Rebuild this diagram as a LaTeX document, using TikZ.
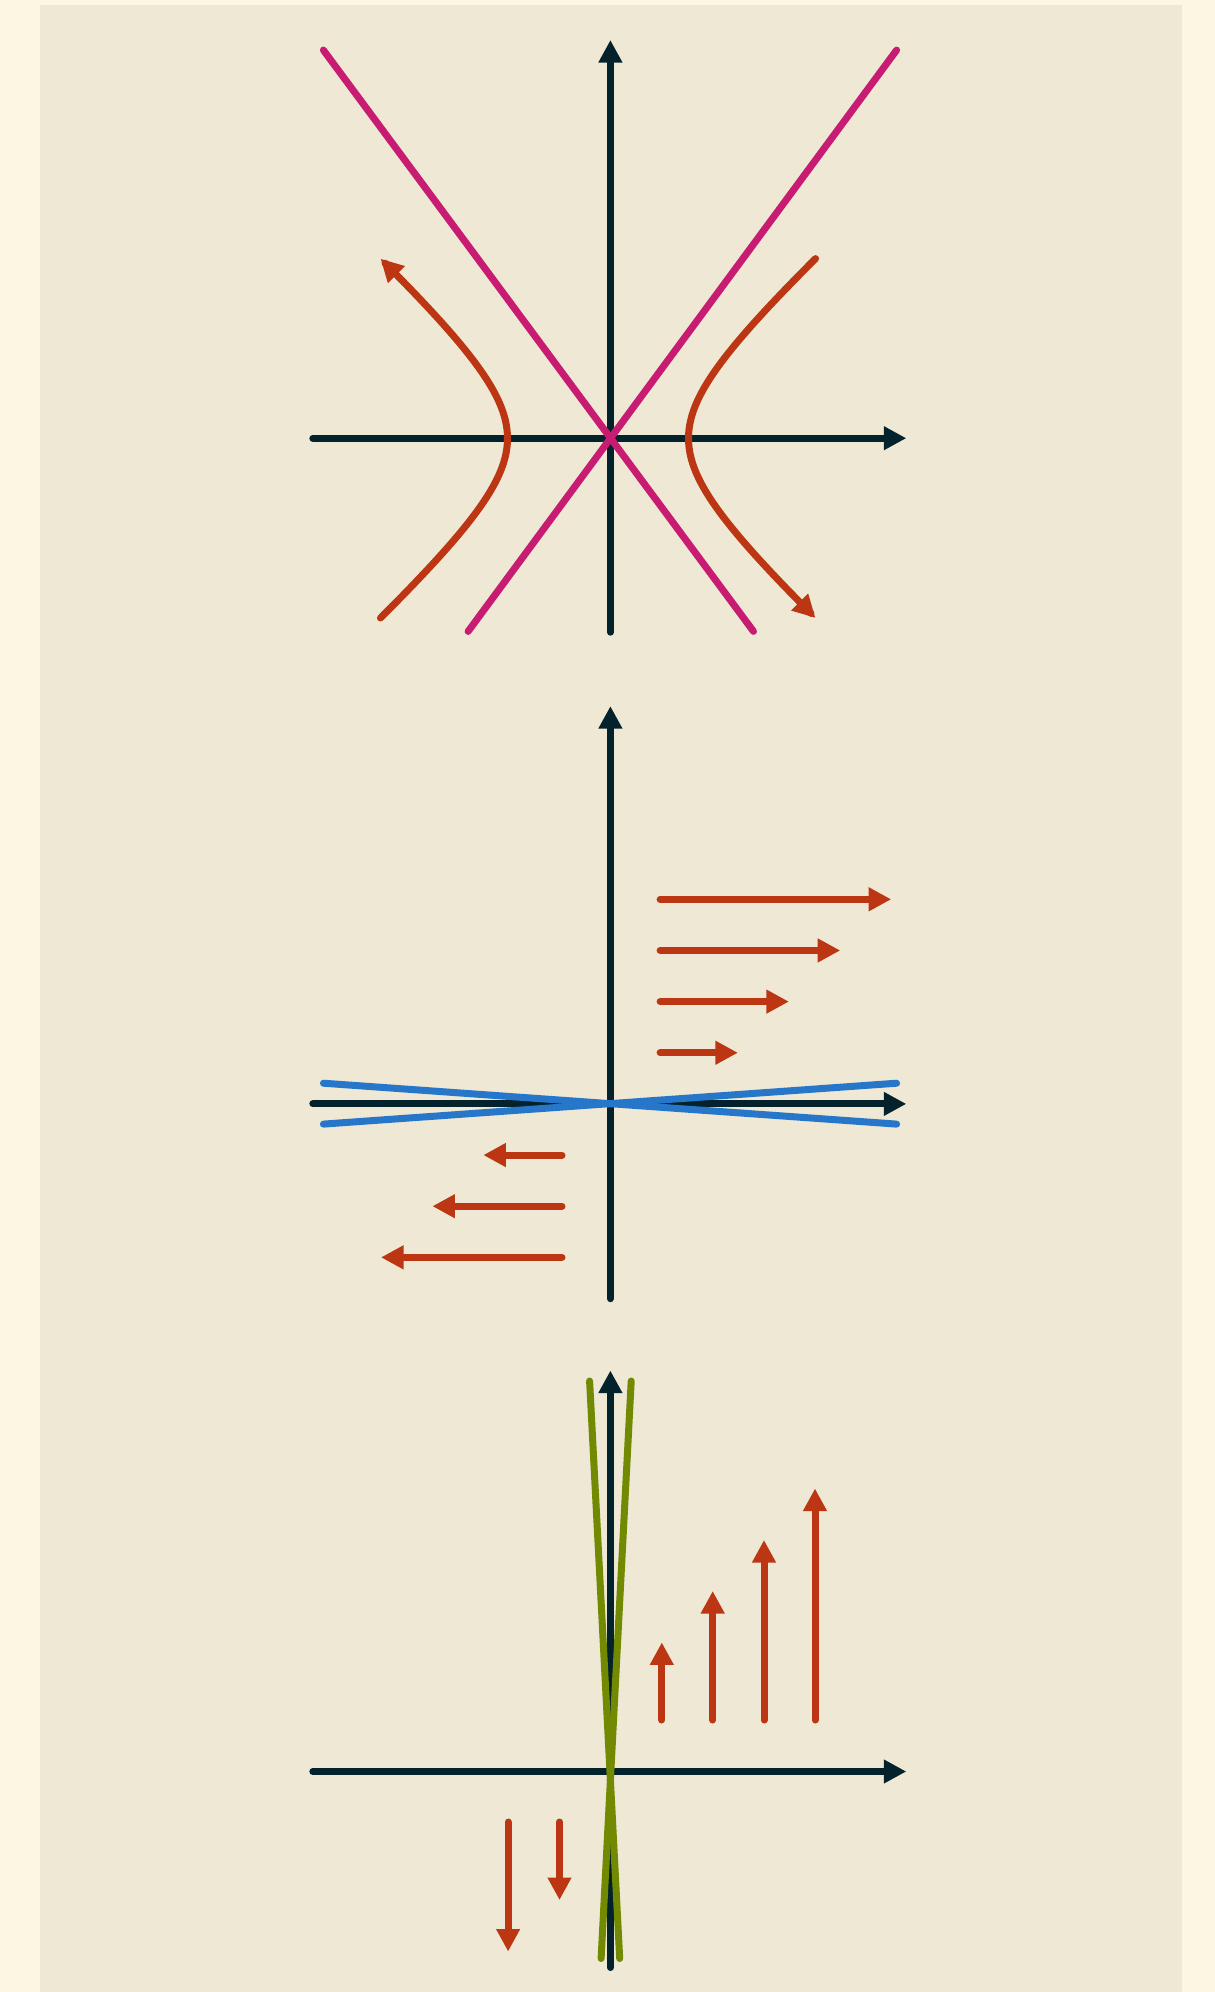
\documentclass[tikz,border=0pt]{standalone}
\usetikzlibrary{arrows.meta}
\definecolor{bgout}{HTML}{FDF6E3}
\definecolor{bgpanel}{HTML}{EEE8D5}
\definecolor{axiscol}{HTML}{03222B}
\definecolor{magen}{HTML}{C71C72}
\definecolor{orng}{HTML}{BD3613}
\definecolor{blu}{HTML}{2677C9}
\definecolor{grn}{HTML}{728A02}
\begin{document}
\begin{tikzpicture}[x=1pt,y=-1pt,line cap=round,line join=round,
  tip/.style={-{Triangle[length=22.5pt,width=22.5pt]}},
  axisline/.style={draw=axiscol,line width=7pt,tip},
  vec/.style={draw=orng,line width=7pt,tip},
  asym/.style={draw=magen,line width=7pt},
  blueline/.style={draw=blu,line width=7pt},
  greenline/.style={draw=grn,line width=7pt}]
\useasboundingbox (0,0) rectangle (1215,1992);
\fill[bgout] (0,0) rectangle (1215,1992);
\fill[bgpanel] (40,5) rectangle (1182,1992);

% ---------- panel 1 ----------
\coordinate (a1xl) at (312.8,438.2);
\coordinate (a1xr) at (906.3,438.2);
\coordinate (a1yb) at (610.4,632.2);
\coordinate (a1yt) at (610.4,40);
\draw[axisline] (a1xl) -- (a1xr);
\draw[axisline] (a1yb) -- (a1yt);
\draw[vec] plot[domain=-1.524:1.524,samples=90,smooth,variable=\t]
  ({598-90.5*cosh(\t)},{438.3-82.2*sinh(\t)});
\draw[vec] plot[domain=-1.524:1.524,samples=90,smooth,variable=\t]
  ({598+90.5*cosh(\t)},{438.3+82.2*sinh(\t)});
\coordinate (m1a) at (323.4,50.1);
\coordinate (m1b) at (753.5,631.4);
\coordinate (m2a) at (896.6,50.1);
\coordinate (m2b) at (468.1,631.4);
\draw[asym] (m1a) -- (m1b);
\draw[asym] (m2a) -- (m2b);

% ---------- panel 2 ----------
\coordinate (a2xl) at (312.8,1103.9);
\coordinate (a2xr) at (906.3,1103.9);
\coordinate (a2yb) at (610.4,1298.7);
\coordinate (a2yt) at (610.4,706.1);
\draw[axisline] (a2xl) -- (a2xr);
\draw[axisline] (a2yb) -- (a2yt);
\foreach \yy/\xx [count=\i] in {1052.75/737.9,1001.6/788.9,950.45/840.2,899.3/891.2}{
  \coordinate (r\i s) at (660.1,\yy);
  \coordinate (r\i e) at (\xx,\yy);
  \draw[vec] (r\i s) -- (r\i e);
}
\foreach \yy/\xx [count=\i] in {1155.05/483.3,1206.2/432.4,1257.35/381}{
  \coordinate (l\i s) at (562,\yy);
  \coordinate (l\i e) at (\xx,\yy);
  \draw[vec] (l\i s) -- (l\i e);
}
\coordinate (b1a) at (323.4,1083.2);
\coordinate (b1b) at (896.6,1124.1);
\coordinate (b2a) at (323.4,1124.1);
\coordinate (b2b) at (896.6,1083.2);
\draw[blueline] (b1a) -- (b1b);
\draw[blueline] (b2a) -- (b2b);

% ---------- panel 3 ----------
\coordinate (a3xl) at (312.8,1771.5);
\coordinate (a3xr) at (906.3,1771.5);
\coordinate (a3yb) at (610.4,1967.5);
\coordinate (a3yt) at (610.4,1370.5);
\draw[axisline] (a3xl) -- (a3xr);
\draw[axisline] (a3yb) -- (a3yt);
\foreach \xx/\yy [count=\i] in {661.8/1642.4,712.7/1591,764/1540,815/1488.5}{
  \coordinate (u\i s) at (\xx,1720);
  \coordinate (u\i e) at (\xx,\yy);
  \draw[vec] (u\i s) -- (u\i e);
}
\foreach \xx/\yy [count=\i] in {508.1/1951.5,559.5/1900}{
  \coordinate (d\i s) at (\xx,1822);
  \coordinate (d\i e) at (\xx,\yy);
  \draw[vec] (d\i s) -- (d\i e);
}
\coordinate (g1a) at (589.6,1381);
\coordinate (g1b) at (619.7,1958.5);
\coordinate (g2a) at (631.2,1381);
\coordinate (g2b) at (601.1,1958.5);
\draw[greenline] (g1a) -- (g1b);
\draw[greenline] (g2a) -- (g2b);
\end{tikzpicture}
\end{document}
